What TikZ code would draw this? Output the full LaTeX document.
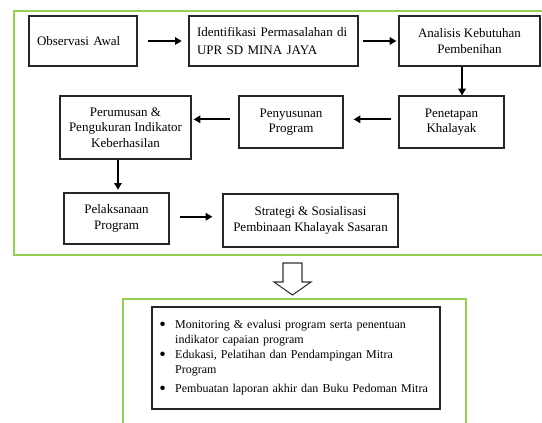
\documentclass[tikz,border=0pt]{standalone}
\usepackage{fontspec}
\setmainfont{Liberation Serif}
\usetikzlibrary{arrows.meta}
\definecolor{framegreen}{RGB}{146,208,80}
\tikzset{pin/.style={-{Triangle[length=5pt,width=5.5pt]}, line width=1.4pt},
  blk/.style={draw=black!85, line width=0.9pt, align=center, inner sep=0pt},
  frm/.style={draw=framegreen, line width=1.3pt}}
\newcommand{\dotmark}{{\fontsize{14pt}{0pt}\selectfont\raisebox{-0.2ex}{\textbullet}}}

\begin{document}
\begin{tikzpicture}[x=0.75pt, y=-0.75pt, font=\fontsize{9.75pt}{11.5pt}\selectfont]
  \useasboundingbox (0,0) rectangle (542,423);
  % green frames
  \draw[frm] (542,11) -- (14,11) -- (14,255) -- (542,255);
  \draw[frm, line width=2pt] (123,423) -- (123,299) -- (466,299) -- (466,423);
  % first row
  \node[blk, minimum width=81pt, minimum height=37.5pt, text width=69pt, align=left] (obs) at (83,41) {Observasi Awal};
  \node[blk, minimum width=126.75pt, minimum height=37.5pt, text width=114.75pt, align=left,
    font=\fontsize{9.75pt}{14pt}\selectfont] (idf) at (273.5,41) {Identifikasi Permasalahan di\\UPR SD MINA JAYA};
  \node[blk, minimum width=105.75pt, minimum height=37.5pt] (ana) at (469.5,41) {Analisis Kebutuhan\\Pembenihan};
  % second row
  \node[blk, minimum width=78.75pt, minimum height=39pt] (pen) at (451.5,122) {Penetapan\\Khalayak};
  \node[blk, minimum width=78pt, minimum height=39pt] (pys) at (291,122) {Penyusunan\\Program};
  \node[blk, minimum width=98.25pt, minimum height=47.25pt] (prm) at (125.5,127.5) {Perumusan \&\\Pengukuran Indikator\\Keberhasilan};
  % third row
  \node[blk, minimum width=78.75pt, minimum height=38.25pt] (pel) at (116.5,218.5) {Pelaksanaan\\Program};
  \node[blk, minimum width=131.25pt, minimum height=39.75pt] (str) at (310.5,220.5) {Strategi \& Sosialisasi\\Pembinaan Khalayak Sasaran};
  % arrows
  \draw[pin, shorten <=7.5pt, shorten >=5pt] (obs.east) -- (idf.west);
  \draw[pin, shorten <=3pt, shorten >=1.5pt] (idf.east) -- (ana.west);
  \draw[pin] ([xshift=-5.6pt]ana.south) -- ([xshift=-5.6pt]ana.south |- pen.north);
  \draw[pin, shorten <=5.25pt, shorten >=7.5pt] ([yshift=2pt]pen.west) -- ([yshift=2pt]pen.west -| pys.east);
  \draw[pin, shorten <=6pt, shorten >=1.5pt] ([yshift=2pt]pys.west) -- ([yshift=2pt]pys.west -| prm.east);
  \draw[pin, shorten >=2pt] ([xshift=1.1pt]pel.north |- prm.south) -- ([xshift=1.1pt]pel.north);
  \draw[pin, shorten <=7.5pt, shorten >=7.5pt] ([yshift=1.3pt]pel.east) -- ([yshift=1.3pt]pel.east -| str.west);
  % hollow arrow
  \draw[line width=0.8pt, draw=black!80] (283,263) -- (302,263) -- (302,282) -- (311,282) -- (292.5,295)
    -- (274,282) -- (283,282) -- cycle;
  % activities
  \node[blk, minimum width=216pt, minimum height=76.5pt, text width=205pt, align=left,
    font=\fontsize{9pt}{11.25pt}\selectfont] (lst) at (296,358) {%
    \begin{tabular}{@{}l@{\hspace{7pt}}l@{}}
      \dotmark & Monitoring \& evalusi program serta penentuan\\
               & indikator capaian program\\
      \dotmark & Edukasi, Pelatihan dan Pendampingan Mitra\\
               & Program\\[3pt]
      \dotmark & Pembuatan laporan akhir dan Buku Pedoman Mitra
    \end{tabular}};
\end{tikzpicture}
\end{document}
